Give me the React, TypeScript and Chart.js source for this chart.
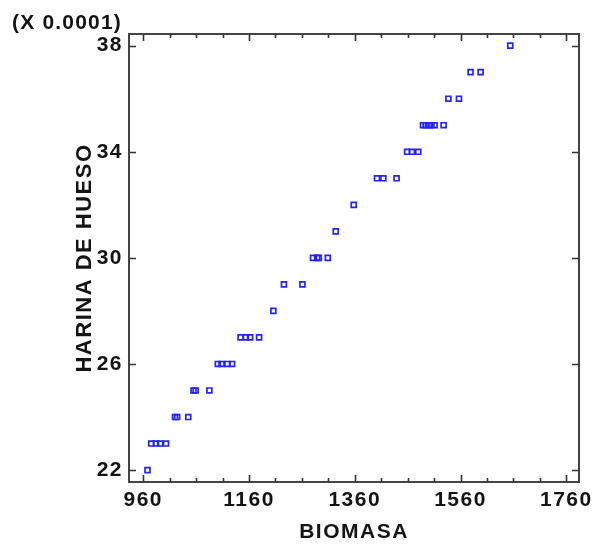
import React, { useEffect, useRef } from 'react';
import { Chart, registerables } from 'chart.js';

Chart.register(...registerables);

// BIOMASA (x) and HARINA DE HUESO (y, in units of 0.0001)
const biomasa = [
  968,
  975, 984, 992, 1003,
  1020, 1024, 1045,
  1055, 1059, 1085,
  1101, 1108, 1119, 1128,
  1144, 1154, 1162, 1179,
  1206,
  1226, 1261,
  1281, 1289, 1292, 1309,
  1324,
  1358,
  1402, 1414, 1439,
  1459, 1468, 1480,
  1489, 1494, 1500, 1505, 1511, 1528,
  1537, 1557,
  1579, 1598,
  1654,
];
const harina = [
  22,
  23, 23, 23, 23,
  24, 24, 24,
  25, 25, 25,
  26, 26, 26, 26,
  27, 27, 27, 27,
  28,
  29, 29,
  30, 30, 30, 30,
  31,
  32,
  33, 33, 33,
  34, 34, 34,
  35, 35, 35, 35, 35, 35,
  36, 36,
  37, 37,
  38,
];

const xTickValues = [960, 1160, 1360, 1560, 1760];
const xMinorTickValues = [1010, 1060, 1110, 1210, 1260, 1310, 1410, 1460, 1510, 1610, 1660, 1710];
const yTickValues = [22, 26, 30, 34, 38];
const xTitle = 'BIOMASA';
const yTitle = 'HARINA DE HUESO';
const multiplierLabel = '(X 0.0001)';

const FONT_FAMILY = '"Liberation Sans", Arial, sans-serif';
const TEXT_COLOR = '#141414';
const FRAME_COLOR = '#444';
const POINT_COLOR = 'rgb(35,35,255)';

const framePlugin = {
  id: 'frameTicks',
  beforeDraw(chart: any) {
    (chart.ctx as any).letterSpacing = '1.5px';
  },
  beforeDatasetsDraw(chart: any) {
    const { ctx, chartArea } = chart;
    const { left, right, top, bottom } = chartArea;
    const xs = chart.scales.x;
    const ys = chart.scales.y;
    ctx.save();
    ctx.strokeStyle = FRAME_COLOR;
    ctx.lineWidth = 2;
    ctx.strokeRect(left, top, right - left, bottom - top);
    ctx.lineWidth = 1.6;
    ctx.strokeStyle = '#333';
    const vt = (v: number, len: number) => {
      const px = Math.round(xs.getPixelForValue(v)) + 0.5;
      ctx.beginPath();
      ctx.moveTo(px, bottom);
      ctx.lineTo(px, bottom - len);
      ctx.moveTo(px, top);
      ctx.lineTo(px, top + len);
      ctx.stroke();
    };
    xTickValues.forEach((v) => vt(v, 7));
    xMinorTickValues.forEach((v) => vt(v, 4));
    yTickValues.forEach((v) => {
      const py = Math.round(ys.getPixelForValue(v)) + 0.5;
      ctx.beginPath();
      ctx.moveTo(left, py);
      ctx.lineTo(left + 7, py);
      ctx.moveTo(right, py);
      ctx.lineTo(right - 7, py);
      ctx.stroke();
    });
    ctx.restore();
  },
  afterDraw(chart: any) {
    const ctx = chart.ctx;
    ctx.save();
    (ctx as any).letterSpacing = '1.2px';
    ctx.font = `bold 21px ${FONT_FAMILY}`;
    ctx.fillStyle = TEXT_COLOR;
    ctx.textAlign = 'left';
    ctx.textBaseline = 'alphabetic';
    ctx.fillText(multiplierLabel, 12, 28.5);
    ctx.restore();
  },
};

export default function App() {
  const canvasRef = useRef<HTMLCanvasElement | null>(null);

  useEffect(() => {
    if (!canvasRef.current) return;
    const font = { family: FONT_FAMILY, size: 21, weight: 'bold' as const, lineHeight: 1.2 };
    const yTitleFont = { family: FONT_FAMILY, size: 22, weight: 'bold' as const, lineHeight: 1.2 };
    const chart = new Chart(canvasRef.current, {
      type: 'scatter',
      data: {
        datasets: [
          {
            data: biomasa.map((x, i) => ({ x, y: harina[i] })),
            pointStyle: 'rect',
            pointRadius: 3.5,
            pointHoverRadius: 3.5,
            borderWidth: 1.7,
            borderColor: POINT_COLOR,
            backgroundColor: 'rgba(255,255,255,0)',
          },
        ],
      },
      options: {
        animation: false,
        responsive: false,
        devicePixelRatio: 1,
        layout: { padding: { top: 34, right: 14, left: 0, bottom: 0 } },
        plugins: {
          legend: { display: false },
          tooltip: { enabled: false },
        },
        scales: {
          x: {
            type: 'linear',
            min: 933,
            max: 1784,
            afterBuildTicks: (s: any) => {
              s.ticks = xTickValues.map((v) => ({ value: v }));
            },
            afterFit: (s: any) => {
              s.height = 63;
              s.paddingLeft = 0;
              s.paddingRight = 0;
            },
            grid: { display: false, drawTicks: false },
            border: { display: false },
            ticks: {
              padding: 6,
              color: TEXT_COLOR,
              font,
              maxRotation: 0,
              autoSkip: false,
              callback: (v: any) => String(v),
            },
            title: {
              display: true,
              text: xTitle,
              color: TEXT_COLOR,
              font,
              padding: { top: 0, bottom: 0 },
            },
          },
          y: {
            type: 'linear',
            min: 21.55,
            max: 38.44,
            afterBuildTicks: (s: any) => {
              s.ticks = yTickValues.map((v) => ({ value: v }));
            },
            afterFit: (s: any) => {
              s.width = 129;
              s.paddingTop = 0;
              s.paddingBottom = 0;
            },
            grid: { display: false, drawTicks: false },
            border: { display: false },
            ticks: {
              padding: 6,
              color: TEXT_COLOR,
              font,
              autoSkip: false,
              callback: (v: any) => String(v),
            },
            title: {
              display: true,
              text: yTitle,
              color: TEXT_COLOR,
              font: yTitleFont,
              padding: { top: 72, bottom: 0 },
            },
          },
        },
      },
      plugins: [framePlugin],
    });
    return () => chart.destroy();
  }, []);

  return (
    <div style={{ position: 'absolute', left: 0, top: 0, width: 593, height: 545, background: '#fff' }}>
      <canvas ref={canvasRef} width={593} height={545} />
    </div>
  );
}
